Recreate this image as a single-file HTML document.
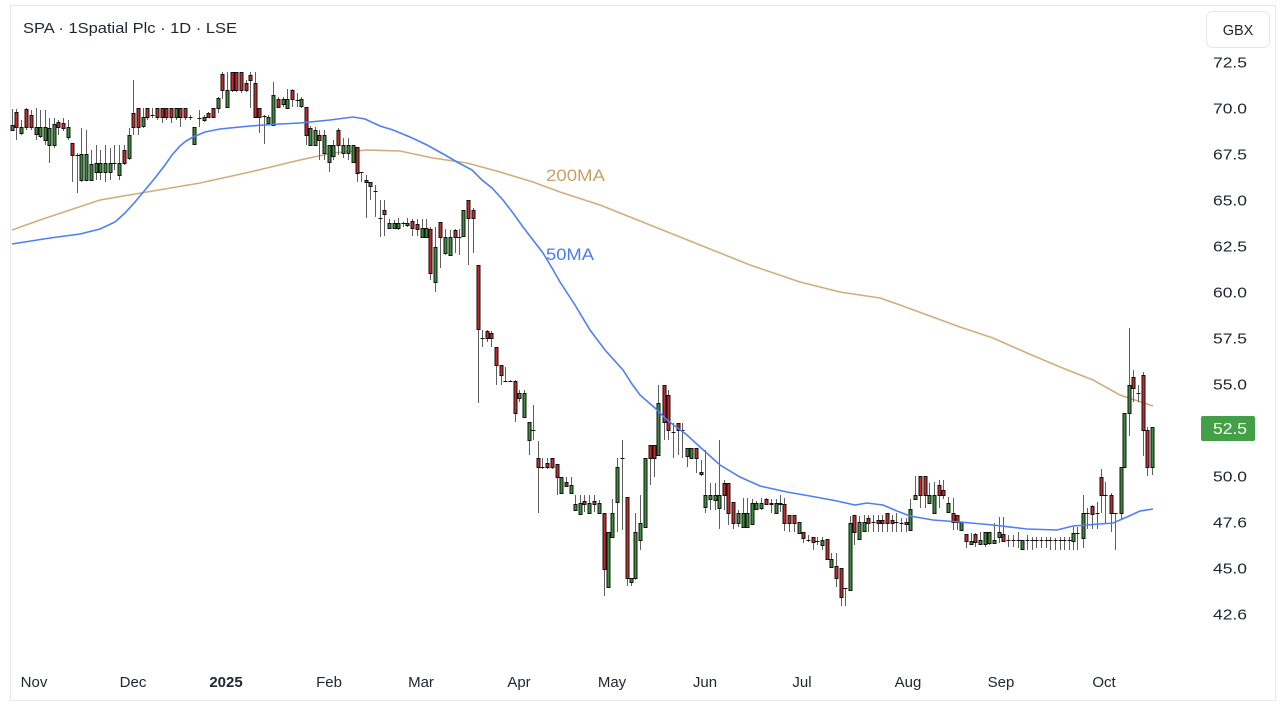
<!DOCTYPE html>
<html><head><meta charset="utf-8"><style>
html,body{margin:0;padding:0;background:#fff;}
body{width:1285px;height:712px;overflow:hidden;}
svg text{font-family:"Liberation Sans",Arial,sans-serif;fill:#222631;}
</style></head><body>
<svg id="s" width="1285" height="712" viewBox="0 0 1285 712" xmlns="http://www.w3.org/2000/svg">
<rect x="0" y="0" width="1285" height="712" fill="#fff"/>
<rect x="10.5" y="5.5" width="1265" height="695" fill="#fff" stroke="#e6e8ec" stroke-width="1"/>
<text x="23" y="33" font-size="15" textLength="214" lengthAdjust="spacingAndGlyphs">SPA · 1Spatial Plc · 1D · LSE</text>
<rect x="1206.5" y="11.5" width="63" height="36" rx="6" fill="#fff" stroke="#e4e6eb"/>
<text x="1238" y="35" font-size="14.5" text-anchor="middle">GBX</text>
<g font-size="15">
<text x="1213" y="67.5" textLength="34" lengthAdjust="spacingAndGlyphs">72.5</text>
<text x="1213" y="113.5" textLength="34" lengthAdjust="spacingAndGlyphs">70.0</text>
<text x="1213" y="159.5" textLength="34" lengthAdjust="spacingAndGlyphs">67.5</text>
<text x="1213" y="205.5" textLength="34" lengthAdjust="spacingAndGlyphs">65.0</text>
<text x="1213" y="251.5" textLength="34" lengthAdjust="spacingAndGlyphs">62.5</text>
<text x="1213" y="297.5" textLength="34" lengthAdjust="spacingAndGlyphs">60.0</text>
<text x="1213" y="343.5" textLength="34" lengthAdjust="spacingAndGlyphs">57.5</text>
<text x="1213" y="389.5" textLength="34" lengthAdjust="spacingAndGlyphs">55.0</text>
<text x="1213" y="481.5" textLength="34" lengthAdjust="spacingAndGlyphs">50.0</text>
<text x="1213" y="527.5" textLength="34" lengthAdjust="spacingAndGlyphs">47.6</text>
<text x="1213" y="573.5" textLength="34" lengthAdjust="spacingAndGlyphs">45.0</text>
<text x="1213" y="619.5" textLength="34" lengthAdjust="spacingAndGlyphs">42.6</text>
</g>
<rect x="1201" y="416" width="54" height="25" rx="2" fill="#43a047"/>
<text x="1213" y="434" font-size="15.5" textLength="34" lengthAdjust="spacingAndGlyphs" style="fill:#fff">52.5</text>
<g font-size="15" text-anchor="middle">
<text x="34" y="687">Nov</text>
<text x="133" y="687">Dec</text>
<text x="226" y="687" font-weight="bold">2025</text>
<text x="329" y="687">Feb</text>
<text x="421" y="687">Mar</text>
<text x="519" y="687">Apr</text>
<text x="612" y="687">May</text>
<text x="705" y="687">Jun</text>
<text x="802" y="687">Jul</text>
<text x="908" y="687">Aug</text>
<text x="1001" y="687">Sep</text>
<text x="1104" y="687">Oct</text>
</g>
<path d="M12,230 L40,220 L70,210 L100,200 L147,192 L200,183 L250,172 L300,160 L333,153 L367,150 L400,151 L433,158 L467,163 L500,172 L533,182 L560,192 L600,205 L650,225 L700,245 L750,265 L800,282 L840,292 L880,298 L900,305 L960,327 L993,338 L1027,353 L1060,367 L1093,380 L1120,395 L1153,406" fill="none" stroke="#d2ad7c" stroke-width="1.6"/>
<g id="c" shape-rendering="crispEdges"></g>
<path d="M12,244 L50,238 L80,234 L100,229 L115,222 L125,213 L135,202 L145,190 L155,178 L165,165 L172,155 L180,146 L186,141 L193,137 L205,132 L220,129 L250,126 L280,124 L300,123 L330,120 L353,117 L365,119 L380,126 L393,130 L410,137 L427,145 L445,155 L457,162 L472,170 L482,180 L492,188 L503,200 L513,213 L523,227 L533,240 L543,253 L552,268 L560,282 L575,305 L590,330 L605,350 L623,370 L632,384 L640,395 L655,408 L667,420 L687,435 L700,447 L720,465 L740,477 L760,486 L787,492 L810,496 L837,501 L855,505 L867,503 L883,505 L897,511 L910,516 L933,520 L960,522 L993,525 L1027,529 L1057,530 L1073,526 L1113,523 L1127,517 L1140,511 L1153,509" fill="none" stroke="#4f7ff2" stroke-width="1.6"/>
<text x="546" y="181" font-size="17" textLength="59" lengthAdjust="spacingAndGlyphs" style="fill:#c9a06a">200MA</text>
<text x="546" y="260" font-size="17" textLength="48" lengthAdjust="spacingAndGlyphs" style="fill:#4a7cf0">50MA</text>
</svg>
<script>
const D=[
[12,130,125,109,131],[16,112,127,109,140],[21,133,127,120,135],[26,109,127,108,130],[31,115,127,110,130],[36,134,127,108,140],[40,136,127,110,138],[45,140,127,110,145],[49,145,128,118,163],[54,145,124,118,148],[58,122,127,120,135],[63,123,128,118,131],[68,137,127,120,140],[72,143,155,143,182],[77,155,155,153,193],[81,180,154,128,182],[86,180,154,130,180],[91,180,164,150,181],[96,172,163,145,180],[100,172,163,150,180],[105,172,163,145,182],[110,172,163,148,180],[114,163,163,145,170],[119,175,163,145,180],[124,150,163,145,165],[129,158,135,128,160],[133,113,127,80,135],[138,108,127,108,135],[143,126,117,108,128],[147,108,117,108,120],[152,115,115,108,118],[157,108,117,108,120],[162,108,117,108,123],[166,108,117,108,120],[171,108,117,108,123],[176,117,108,108,120],[180,108,117,108,127],[185,108,117,108,120],[190,117,117,115,120],[194,144,127,127,145],[199,118,118,110,127],[204,120,117,115,122],[208,113,117,112,118],[213,108,117,108,118],[218,108,98,97,113],[222,74,90,72,99],[227,107,90,72,107],[232,72,90,72,92],[236,72,90,72,92],[241,72,90,72,93],[246,83,90,80,92],[250,75,80,72,108],[255,83,117,72,118],[259,108,117,108,133],[264,116,116,115,144],[268,123,117,115,125],[273,125,95,82,125],[278,99,107,97,108],[283,104,99,97,107],[287,108,99,89,108],[292,90,99,89,107],[297,100,100,93,107],[301,106,99,97,108],[306,107,135,107,145],[310,145,128,126,145],[315,145,130,127,145],
[319,135,140,130,160],[324,153,135,130,160],[329,162,145,145,172],[333,156,145,140,160],[338,130,145,128,155],[343,153,145,138,158],[348,153,145,138,160],[353,162,145,145,162],[357,147,173,147,182],[361,172,172,172,182],[366,180,182,175,218],[370,186,182,182,200],[375,191,191,185,217],[380,218,218,200,237],[384,210,214,200,236],[389,228,223,219,228],[394,228,223,220,228],[398,228,223,218,230],[403,223,223,222,227],[407,225,223,218,227],[412,221,228,219,236],[417,224,229,219,236],[422,237,228,219,237],[426,237,228,219,237],[430,229,273,227,280],[435,282,247,227,292],[440,222,237,222,268],[445,253,237,229,255],[450,255,237,230,255],[455,230,237,229,253],[459,237,237,229,255],[463,236,210,210,237],[468,200,218,200,265],[473,210,218,208,253],[478,265,329,265,403],[482,338,338,330,347],[487,331,338,330,342],[491,333,338,331,347],[496,347,365,347,385],[501,365,375,365,385],[505,381,381,367,381],[510,381,381,380,382],[515,381,413,380,422],[519,398,393,390,402],[524,417,393,390,417],
[529,440,422,422,455],[533,430,430,405,440],[538,458,467,441,513],[542,467,467,458,469],[547,463,467,458,469],[552,458,467,458,469],[557,464,477,464,495],[561,493,477,477,493],[566,482,486,477,487],[571,493,485,477,493],[575,510,504,495,510],[580,514,503,495,514],[584,501,504,495,512],[589,513,503,495,513],[594,501,504,495,512],[599,513,503,500,513],[604,513,569,513,596],[608,587,532,532,587],[612,537,513,499,537],[617,502,467,458,532],[622,458,458,440,530],[627,497,578,497,586],[631,582,578,578,586],[635,578,532,513,580],[640,540,523,495,550],[645,527,458,458,527],[650,445,458,445,485],[654,445,458,445,477],[658,455,403,385,455],[664,385,422,385,440],[668,395,430,390,440],[673,432,432,423,458],[678,423,430,423,455],[682,430,430,423,458],[687,456,448,448,467],[691,458,448,448,458],[696,448,458,448,473],[701,472,474,460,476],[705,507,495,450,513],[710,499,495,483,510],[715,500,495,483,510],[719,508,495,440,529],[724,483,495,480,510],[728,483,513,483,525],[733,502,523,502,529],[738,523,513,510,527],
[743,527,513,498,528],[747,527,513,498,527],[752,524,503,499,525],[756,509,503,501,510],[761,508,503,498,510],[766,499,504,498,505],[771,504,503,499,513],[776,513,503,499,513],[780,504,503,495,512],[784,504,523,498,531],[789,515,523,515,532],[794,515,523,515,532],[799,533,522,522,533],[803,532,538,532,543],[808,540,540,535,542],[813,537,542,537,550],[817,541,541,537,545],[822,545,540,537,550],[827,539,559,539,560],[831,567,559,553,567],[836,566,578,553,587],[841,568,597,568,606],[845,588,588,588,606],[850,590,523,516,590],[854,515,532,515,545],[859,539,522,516,540],[864,531,522,515,532],[868,518,523,515,532],[873,522,522,515,532],[878,520,523,515,532],[882,520,523,515,532],[887,513,523,513,532],[892,520,523,515,532],[896,522,522,513,532],[901,523,523,518,532],[906,524,522,518,532],[910,530,509,499,530],[915,499,495,476,499],[920,476,495,476,508],[925,476,495,476,508],[929,503,495,483,503],[934,513,495,482,513],[939,485,495,480,508],[943,490,495,480,499],[948,512,503,497,513],[953,513,522,498,530],[957,515,522,515,530],[961,530,522,522,530],
[966,534,541,534,548],[971,544,541,533,544],[975,534,542,533,547],[980,544,540,532,545],[985,544,532,532,547],[989,543,532,532,545],[994,543,540,523,544],[999,537,532,517,543],[1003,534,541,517,542],[1008,540,540,535,547],[1013,540,540,535,547],[1018,540,540,532,548],[1022,549,540,540,550],[1027,540,540,535,550],[1032,540,540,537,550],[1036,540,540,537,548],[1041,540,540,537,548],[1046,540,540,537,548],[1050,540,540,537,550],[1055,540,540,538,550],[1060,540,540,537,550],[1064,540,540,537,550],[1069,540,540,537,550],[1073,541,533,527,550],[1077,533,533,527,550],[1083,538,513,495,548],[1087,513,513,508,529],[1092,506,514,505,529],[1097,513,513,502,529],[1101,477,495,469,513],[1105,495,495,482,523],[1111,495,513,493,532],[1115,513,513,513,550],[1121,513,467,467,520],[1124,467,413,413,467],[1129,413,385,328,436],[1133,377,388,370,402],[1138,393,393,385,402],[1143,375,430,372,456],[1147,430,467,427,476],[1152,467,427,427,475]
];
let h='';
for(const [x,o,c,hi,lo] of D){
  const cx=Math.round(x)+0.5;
  h+='<line x1="'+cx+'" x2="'+cx+'" y1="'+hi+'" y2="'+lo+'" stroke="#5f5f5f"/>';
  if(Math.abs(o-c)<1){
    h+='<line x1="'+(cx-2)+'" x2="'+(cx+2)+'" y1="'+(o+0.5)+'" y2="'+(o+0.5)+'" stroke="#111"/>';
  } else {
    const t=Math.min(o,c), b=Math.max(o,c);
    h+='<rect x="'+(cx-1.5)+'" y="'+(t+0.5)+'" width="3" height="'+(b-t)+'" fill="'+(c<o?'#3a8d3a':'#c42a2a')+'" stroke="#111"/>';
  }
}
document.getElementById('c').innerHTML=h;
</script>
</body></html>
